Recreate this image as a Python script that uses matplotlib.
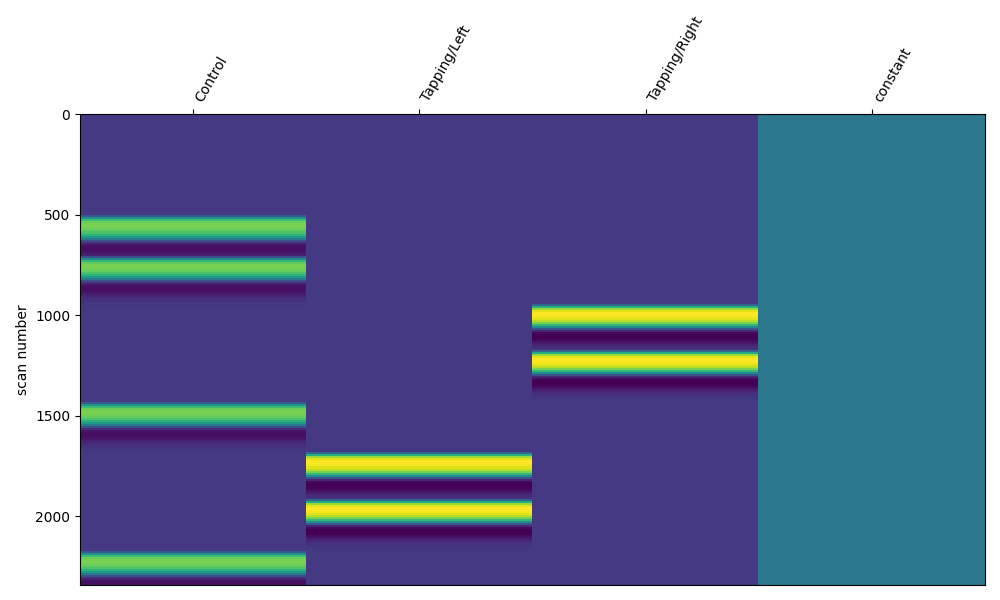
import numpy as np
import matplotlib
matplotlib.use("Agg")
import matplotlib.pyplot as plt

# -----------------------------
# 1. Data Setup
# -----------------------------
column_names = ["Control", "Tapping/Left", "Tapping/Right", "constant"]
n_scans = 2343
bin_size = 10  # scans per row of the drawn matrix

# event onsets (scan number) per condition
control_onsets = [502, 701, 1438, 2179]
tapping_left_onsets = [1687, 1910]
tapping_right_onsets = [945, 1174]

# response to one event, one value every 10 scans after onset
event_profile = [0.0, 0.2, 0.55, 0.82, 0.95, 1.0, 1.0, 0.98, 0.94, 0.87,
                 0.76, 0.6, 0.38, 0.12, -0.07, -0.17, -0.2, -0.2, -0.19,
                 -0.16, -0.12, -0.08, -0.05, -0.03, -0.015, -0.005, 0.0]

# column heights after normalisation
control_scale = 0.76
tapping_scale = 1.0
constant_value = 0.277

# -----------------------------
# 2. Build the design matrix
# -----------------------------
n_rows = int(np.ceil(n_scans / bin_size))
profile = np.array(event_profile)


def regressor(onsets, scale):
    col = np.zeros(n_rows)
    for onset in onsets:
        start = onset // bin_size
        stop = min(start + len(profile), n_rows)
        col[start:stop] += profile[:stop - start]
    return col * scale


X = np.column_stack([
    regressor(control_onsets, control_scale),
    regressor(tapping_left_onsets, tapping_scale),
    regressor(tapping_right_onsets, tapping_scale),
    np.full(n_rows, constant_value),
])

# -----------------------------
# 3. Visualization
# -----------------------------
fig = plt.figure(figsize=(10, 6), dpi=100)
ax = fig.add_axes([0.08, 0.025, 0.905, 0.785])
ax.imshow(X, interpolation="nearest", aspect="auto", cmap="viridis",
          extent=(-0.5, len(column_names) - 0.5, n_scans - 0.5, -0.5))

ax.set_ylabel("scan number")
ax.set_yticks([0, 500, 1000, 1500, 2000])
ax.set_xticks(range(len(column_names)))
ax.set_xticklabels(column_names, rotation=60, ha="left")
ax.xaxis.tick_top()

fig.savefig("out.png", dpi=100)
plt.close(fig)
